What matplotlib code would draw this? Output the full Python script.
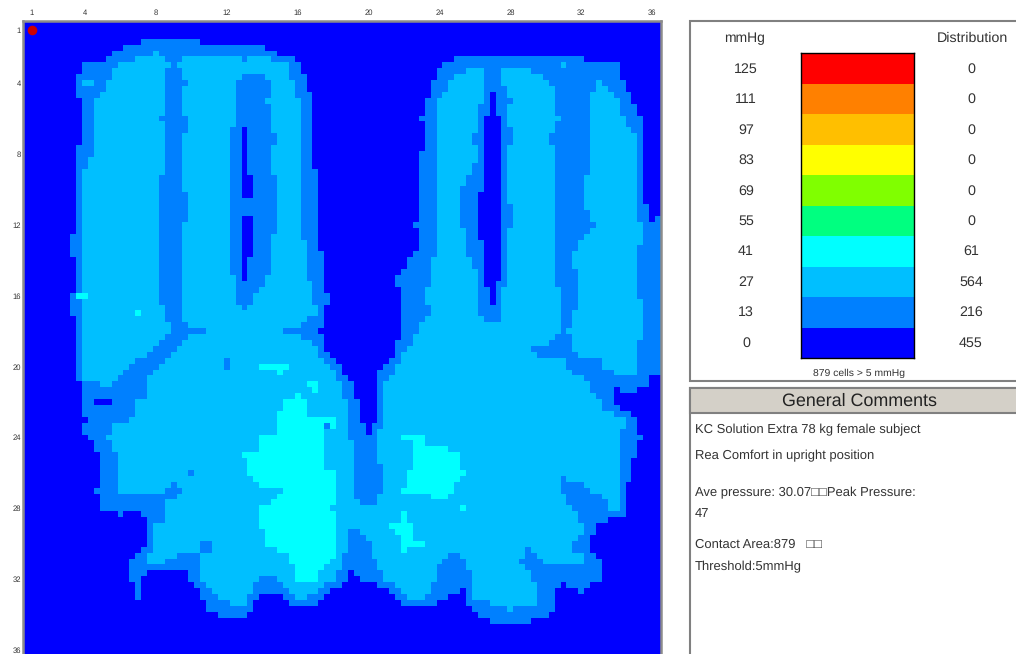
import matplotlib
matplotlib.use("Agg")
import matplotlib.pyplot as plt
import numpy as np
from matplotlib.colors import ListedColormap
from matplotlib.patches import Rectangle

# colour bands, top of the scale first
mmhg_labels = ["125", "111", "97", "83", "69", "55", "41", "27", "13", "0"]
distribution = ["0", "0", "0", "0", "0", "0", "61", "564", "216", "455"]
band_colors = ["#FF0000", "#FF8000", "#FFBF00", "#FFFF00", "#80FF00",
               "#00FF80", "#00FFFF", "#00BFFF", "#0080FF", "#0000FF"]

tick_values = [1, 4, 8, 12, 16, 20, 24, 28, 32, 36]

comment_lines = [
    ("KC Solution Extra 78 kg female subject", 430),
    ("Rea Comfort in upright position", 456),
    ("Ave pressure: 30.07\u25a1\u25a1Peak Pressure:", 493),
    ("47", 514),
    ("Contact Area:879   \u25a1\u25a1", 545),
    ("Threshold:5mmHg", 567),
]

# pressure map, read row by row as "start column:level" for columns 0-53
left_rows = [
    "", "", "",
    "20:1 30:0",
    "17:1 41:0",
    "15:1 22:2 23:1 43:0",
    "14:1 19:2 24:1 27:2 37:1 38:2 42:1 46:0",
    "10:1 16:2 25:1 26:2 45:1 47:0",
    "10:1 15:2 24:1 27:2 45:1 47:0",
    "9:1 15:2 24:1 27:2 37:1 41:2 45:1 48:0",
    "9:1 10:2 12:1 14:2 24:1 28:2 36:1 42:2 46:1 48:0",
    "9:1 14:2 24:1 27:2 36:1 42:2 46:1 48:0",
    "9:1 13:2 24:1 27:2 36:1 42:2 46:1 49:0",
    "10:1 12:2 24:1 27:2 36:1 41:2 47:1 49:0",
    "10:1 12:2 24:1 27:2 36:1 42:2 47:1 49:0",
    "10:1 12:2 24:1 27:2 36:1 42:2 47:1 49:0",
    "10:1 12:2 23:1 28:2 36:1 42:2 47:1 49:0",
    "10:1 12:2 24:1 28:2 36:1 42:2 47:1 49:0",
    "10:1 12:2 24:1 28:2 35:1 37:0 38:1 42:2 47:1 49:0",
    "10:1 12:2 24:1 27:2 35:1 37:0 38:1 43:2 47:1 49:0",
    "10:1 12:2 24:1 27:2 35:1 37:0 38:1 43:2 47:1 49:0",
    "9:1 12:2 24:1 27:2 35:1 37:0 38:1 42:2 47:1 49:0",
    "9:1 12:2 24:1 27:2 35:1 37:0 38:1 42:2 47:1 49:0",
    "9:1 11:2 24:1 27:2 35:1 37:0 38:1 42:2 47:1 49:0",
    "9:1 11:2 24:1 27:2 35:1 37:0 38:1 42:2 47:1 49:0",
    "9:1 10:2 24:1 27:2 35:1 37:0 38:1 42:2 47:1 50:0",
    "9:1 10:2 23:1 27:2 35:1 37:0 39:1 43:2 47:1 50:0",
    "9:1 10:2 23:1 27:2 35:1 37:0 39:1 43:2 47:1 50:0",
    "9:1 10:2 23:1 27:2 35:1 37:0 39:1 43:2 47:1 50:0",
    "9:1 10:2 23:1 28:2 35:1 37:0 39:1 43:2 47:1 50:0",
    "9:1 10:2 23:1 28:2 35:1 43:2 47:1 50:0",
    "9:1 10:2 23:1 28:2 35:1 43:2 47:1 50:0",
    "9:1 10:2 23:1 28:2 35:1 43:2 47:1 50:0",
    "9:1 10:2 23:1 28:2 35:1 37:0 39:1 43:2 47:1 50:0",
    "9:1 10:2 23:1 27:2 35:1 37:0 39:1 43:2 47:1 50:0",
    "9:1 10:2 23:1 27:2 35:1 37:0 39:1 43:2 47:1 50:0",
    "8:1 10:2 23:1 27:2 35:1 37:0 39:1 42:2 47:1 50:0",
    "8:1 10:2 23:1 27:2 35:1 37:0 39:1 42:2 48:1 50:0",
    "8:1 10:2 23:1 27:2 35:1 37:0 39:1 42:2 48:1 50:0",
    "8:1 10:2 23:1 27:2 35:1 37:0 39:1 42:2 48:1 51:0",
    "9:1 10:2 23:1 27:2 35:1 37:0 38:1 42:2 48:1 51:0",
    "9:1 10:2 23:1 27:2 35:1 37:0 38:1 42:2 48:1 51:0",
    "9:1 10:2 23:1 27:2 35:1 37:0 38:1 42:2 48:1 51:0",
    "9:1 10:2 23:1 27:2 36:1 37:0 38:1 41:2 48:1 51:0",
    "9:1 10:2 23:1 27:2 36:1 41:2 49:1 51:0",
    "9:1 10:2 23:1 27:2 36:1 40:2 49:1 51:0",
    "8:1 9:3 11:2 23:1 27:2 36:1 39:2 49:1 52:0",
    "8:1 10:2 23:1 27:2 36:1 39:2 49:1 52:0",
    "8:1 10:2 24:1 27:2 37:1 38:2 50:1 51:0",
    "8:1 10:2 19:3 20:2 24:1 27:2 50:1 51:0",
    "9:1 10:2 24:1 27:2 48:1 51:0",
    "9:1 10:2 25:1 28:2 47:1 51:0",
    "9:1 10:2 25:1 31:2 44:1 50:0",
    "9:1 10:2 24:1 28:2 47:1 51:0",
    "9:1 10:2 23:1 27:2 49:1 51:0",
    "9:1 10:2 22:1 26:2 50:1 51:0",
    "9:1 10:2 21:1 25:2 50:1 52:0",
    "9:1 10:2 19:1 24:2 34:1 35:2 51:1 53:0",
    "9:1 10:2 18:1 23:2 34:1 35:2 40:3 45:2 52:1",
    "9:1 10:2 17:1 22:2 43:3 44:2 53:1",
    "9:1 10:2 16:1 21:2 53:1",
    "10:1 13:2 15:1 21:2 48:3 50:2",
    "10:1 21:2 49:3 50:2",
    "10:1 21:2 46:3 47:2",
    "10:1 12:0 15:1 19:2 44:3 48:2",
    "10:1 19:2 44:3 48:2",
    "10:1 19:2 43:3 48:2",
    "11:1 18:2 43:3 53:2",
    "10:1 15:2 43:3 51:1 52:3 53:2",
    "10:1 15:2 43:3 51:2",
    "11:1 14:2 40:3 51:2",
    "12:1 15:2 40:3 51:2",
    "12:1 15:2 40:3 51:2",
    "13:1 16:2 37:3 51:2",
    "13:1 16:2 38:3 51:2",
    "13:1 16:2 38:3 51:2",
    "13:1 16:2 28:1 29:2 38:3 53:2",
    "13:1 16:2 39:3 53:2",
    "13:1 16:2 25:1 26:2 40:3 53:2",
    "12:1 16:2 24:1 27:2 44:3 53:2",
    "13:1 26:2 43:3 53:2",
    "13:1 24:2 42:3 53:2",
    "13:1 24:2 40:3 52:2",
    "16:1 17:0 20:1 24:2 40:3 53:2",
    "21:1 24:2 40:3 53:2",
    "21:1 22:2 40:3 53:2",
    "21:1 22:2 41:3 53:2",
    "21:1 22:2 41:3 53:2",
    "21:1 22:2 30:1 32:2 41:3 53:2",
    "20:1 22:2 30:1 32:2 43:3 53:2",
    "19:1 21:2 26:1 30:2 45:3 53:2",
    "18:1 21:2 24:1 30:2 45:3 52:2",
    "18:1 30:2 46:3 51:2",
    "18:1 21:0 28:1 30:2 46:3 50:2 53:1",
    "18:1 20:0 28:1 30:2 40:1 43:2 46:3 50:2 53:1",
    "19:1 20:0 29:1 31:2 39:1 44:2 51:1",
    "19:1 20:0 30:1 32:2 39:1 45:2 50:1 52:0",
    "19:1 20:0 30:1 33:2 38:1 40:0 44:1 46:2 48:1 51:0",
    "31:1 35:2 38:1 39:0 45:1 50:0",
    "31:1 39:0",
    "33:1 38:0",
]

# same for columns 54-107
right_rows = [
    "", "", "", "", "", "",
    "73:1 95:0",
    "71:1 91:2 92:1 101:0",
    "70:1 75:2 78:1 81:2 86:1 101:0",
    "70:1 73:2 78:1 81:2 88:1 101:0",
    "69:1 72:2 78:1 81:2 89:1 97:2 98:1 102:0",
    "69:1 72:2 78:1 82:2 90:1 97:2 99:1 102:0",
    "69:1 71:2 78:1 79:0 80:1 82:2 90:1 96:2 100:1 103:0",
    "68:1 70:2 78:1 79:0 80:1 83:2 90:1 96:2 101:1 103:0",
    "68:1 70:2 77:1 79:0 80:1 82:2 90:1 96:2 101:1 104:0",
    "68:1 70:2 77:1 79:0 80:1 82:2 90:1 96:2 101:1 104:0",
    "67:1 70:2 77:1 78:0 81:1 82:2 91:1 96:2 102:1 105:0",
    "68:1 70:2 77:1 78:0 81:1 82:2 90:1 96:2 102:1 105:0",
    "68:1 70:2 77:1 78:0 81:1 83:2 90:1 96:2 103:1 105:0",
    "68:1 70:2 76:1 78:0 81:1 83:2 89:1 96:2 104:1 105:0",
    "68:1 70:2 76:1 78:0 81:1 83:2 89:1 96:2 104:1 105:0",
    "68:1 70:2 77:1 78:0 81:1 82:2 90:1 96:2 104:1 105:0",
    "67:1 70:2 77:1 78:0 81:1 82:2 90:1 96:2 104:1 105:0",
    "67:1 70:2 77:1 78:0 81:1 82:2 90:1 96:2 104:1 105:0",
    "67:1 70:2 76:1 78:0 81:1 82:2 90:1 96:2 104:1 105:0",
    "67:1 70:2 76:1 78:0 81:1 82:2 90:1 96:2 104:1 105:0",
    "67:1 70:2 75:1 78:0 81:1 82:2 90:1 95:2 104:1 105:0",
    "67:1 70:2 75:1 78:0 81:1 82:2 90:1 95:2 104:1 105:0",
    "67:1 70:2 74:1 78:0 81:1 82:2 90:1 95:2 104:1 105:0",
    "67:1 70:2 74:1 77:0 81:1 82:2 90:1 95:2 104:1 105:0",
    "67:1 70:2 74:1 77:0 81:1 82:2 90:1 95:2 104:1 105:0",
    "67:1 70:2 74:1 77:0 81:1 83:2 90:1 95:2 104:1 106:0",
    "67:1 70:2 74:1 77:0 81:1 83:2 90:1 96:2 104:1 106:0",
    "67:1 70:2 74:1 77:0 81:1 83:2 90:1 96:2 104:1 106:0 107:1",
    "66:1 70:2 74:1 77:0 81:1 83:2 90:1 97:2 105:1",
    "67:1 70:2 75:1 77:0 81:1 82:2 90:1 96:2 105:1",
    "67:1 70:2 75:1 77:0 81:1 82:2 90:1 95:2 105:1",
    "67:1 70:2 75:1 78:0 81:1 82:2 90:1 94:2 105:1",
    "67:1 70:2 75:1 78:0 81:1 82:2 90:1 94:2 104:1",
    "66:1 70:2 75:1 78:0 81:1 82:2 90:1 93:2 104:1",
    "65:1 69:2 76:1 78:0 81:1 82:2 90:1 93:2 104:1",
    "65:1 69:2 76:1 78:0 81:1 82:2 90:1 93:2 104:1",
    "64:1 69:2 77:1 78:0 81:1 82:2 90:1 94:2 104:1",
    "63:1 69:2 77:1 78:0 81:1 82:2 90:1 94:2 104:1",
    "63:1 69:2 77:1 78:0 80:1 82:2 90:1 94:2 104:1",
    "64:1 68:2 77:1 79:0 80:1 81:2 91:1 94:2 104:1",
    "64:1 68:2 77:1 79:0 80:1 81:2 91:1 94:2 104:1",
    "64:1 68:2 77:1 79:0 80:1 81:2 91:1 94:2 105:1",
    "64:1 69:2 77:1 81:2 91:1 94:2 105:1",
    "64:1 69:2 77:1 81:2 91:1 93:2 105:1",
    "64:1 68:2 78:1 81:2 91:1 93:2 105:1",
    "64:1 67:2 91:1 93:2 105:1",
    "64:1 67:2 91:1 92:2 105:1",
    "64:1 66:2 90:1 93:2 105:1",
    "63:1 66:2 89:1 93:2 104:1",
    "63:1 65:2 86:1 93:2 104:1",
    "63:1 64:2 87:1 94:2 104:1",
    "62:1 64:2 92:1 98:2 104:1",
    "61:1 63:2 92:1 98:2 104:1",
    "60:1 63:2 93:1 100:2 104:1",
    "54:1 55:0 60:1 62:2 95:1 106:0",
    "54:1 56:0 60:1 61:2 96:1 106:0",
    "54:1 56:0 60:1 61:2 96:1 100:0 101:1 104:0",
    "54:1 56:0 60:1 61:2 97:1 100:0",
    "54:2 55:1 57:0 60:1 61:2 98:1 100:0",
    "54:2 55:1 57:0 60:1 61:2 98:1 101:0",
    "54:2 55:1 57:0 60:1 61:2 100:1 103:0",
    "54:2 55:1 57:0 60:1 61:2 102:1 104:0",
    "54:2 55:1 58:0 59:1 61:2 102:1 104:0",
    "54:2 55:1 58:0 59:1 60:2 101:1 104:0",
    "54:2 55:1 60:2 64:3 68:2 101:1 105:0",
    "54:2 56:1 60:2 66:3 68:2 101:1 104:0",
    "54:2 56:1 60:2 66:3 72:2 101:1 104:0",
    "54:2 56:1 60:2 66:3 74:2 101:1 104:0",
    "54:2 56:1 60:2 66:3 74:2 101:1 103:0",
    "54:2 56:1 61:2 66:3 74:2 101:1 103:0",
    "54:2 56:1 61:2 65:3 75:2 101:1 103:0",
    "54:2 56:1 61:2 65:3 74:2 91:1 92:2 101:1 103:0",
    "54:2 56:1 61:2 65:3 73:2 91:1 95:2 101:1 102:0",
    "54:2 56:1 61:2 64:3 73:2 91:1 96:2 101:1 102:0",
    "54:2 56:1 60:2 69:3 72:2 92:1 98:2 101:1 102:0",
    "54:2 57:1 60:2 92:1 99:2 101:1 102:0",
    "54:2 74:3 75:2 93:1 99:2 101:1 102:0",
    "54:2 64:3 65:2 94:1 102:0",
    "54:2 64:3 65:2 94:1 99:0",
    "54:2 62:3 66:2 95:1 97:0",
    "54:2 55:1 57:2 63:3 66:2 95:1 97:0",
    "54:2 55:1 58:2 64:3 66:2 94:1 96:0",
    "54:2 55:1 59:2 64:3 68:2 93:1 96:0",
    "54:2 55:1 59:2 64:3 65:2 85:1 86:2 93:1 96:0",
    "54:1 59:2 72:1 74:2 85:1 87:2 95:1 97:0",
    "54:1 60:2 71:1 75:2 84:1 88:2 95:1 98:0",
    "54:1 60:2 70:1 75:2 85:1 98:0",
    "54:1 55:0 56:1 61:2 70:1 76:2 86:1 98:0",
    "54:1 55:0 57:1 61:2 70:1 76:2 86:1 98:0",
    "54:0 60:1 63:2 69:1 76:2 87:1 91:0 92:1 96:0",
    "54:0 62:1 64:2 69:1 74:0 75:1 76:2 87:1 90:0 94:1 95:0",
    "54:0 63:1 65:2 68:1 72:0 75:1 76:2 87:1 90:0",
    "54:0 64:1 70:0 75:1 79:2 87:1 90:0",
    "54:0 76:1 82:2 83:1 90:0",
    "54:0 77:1 89:0",
    "54:0 79:1 86:0",
]


def fill_rows(grid, rows, first_col):
    for r, row in enumerate(rows):
        level = 0
        col = first_col
        for token in row.split():
            start, new_level = token.split(":")
            grid[r, col:int(start)] = level
            col = int(start)
            level = int(new_level)
        grid[r, col:first_col + 54] = level


grid = np.zeros((108, 108), dtype=int)
fill_rows(grid, left_rows, 0)
fill_rows(grid, right_rows, 54)

plt.rcParams["font.family"] = ["Liberation Sans", "DejaVu Sans"]
plt.rcParams["text.hinting"] = "none"

W, H = 1016, 654
fig = plt.figure(figsize=(W / 100, H / 100), dpi=100, facecolor="white")


def pixel_axes(x0, y0, x1, y1):
    return fig.add_axes([x0 / W, 1 - y1 / H, (x1 - x0) / W, (y1 - y0) / H])


# pressure map
ax = pixel_axes(23, 21, 661, 659)
cmap = ListedColormap(band_colors[::-1][:4])
ax.imshow(grid, cmap=cmap, vmin=0, vmax=3, extent=(0.5, 36.5, 36.5, 0.5),
          interpolation="nearest", aspect="auto")
ax.scatter([1], [1], s=48, color="#CC0000", linewidths=0, zorder=3)
ax.set_xticks(tick_values)
ax.set_yticks(tick_values)
ax.xaxis.tick_top()
ax.tick_params(length=0, labelsize=5.5, labelcolor="#333333")
ax.tick_params(axis="x", pad=3)
ax.tick_params(axis="y", pad=1.5)
for side in ax.spines.values():
    side.set_color("#8C8C8C")
    side.set_linewidth(1.8)

# colour scale
bar = pixel_axes(801, 53, 914, 358)
bar.barh(range(len(band_colors)), [1] * len(band_colors), height=1, color=band_colors)
bar.set_xlim(0, 1)
bar.set_ylim(len(band_colors) - 0.5, -0.5)
bar.set_xticks([])
bar.set_yticks([])
for side in bar.spines.values():
    side.set_color("black")
    side.set_linewidth(1)

# side panels in pixel coordinates
panel = fig.add_axes([0, 0, 1, 1], zorder=-1)
panel.set_xlim(0, W)
panel.set_ylim(H, 0)
panel.axis("off")
panel.add_patch(Rectangle((690, 21), 340, 360, fc="white", ec="#808080", lw=1.5))
panel.add_patch(Rectangle((690, 388), 340, 300, fc="white", ec="#808080", lw=1.5))
panel.add_patch(Rectangle((690, 388), 340, 25, fc="#D4D0C8", ec="#808080", lw=1.5))

panel.text(745, 38, "mmHg", ha="center", va="center", fontsize=10, color="#333333")
panel.text(972, 38, "Distribution", ha="center", va="center", fontsize=10.3, color="#333333")
for i in range(len(mmhg_labels)):
    y = 69.3 + i * 30.4
    panel.text(746, y, mmhg_labels[i], ha="center", va="center", fontsize=10.3, color="#333333")
    panel.text(971, y, distribution[i], ha="center", va="center", fontsize=10.3, color="#333333")
panel.text(859, 373.5, "879 cells > 5 mmHg", ha="center", va="center", fontsize=7.5, color="#333333")
panel.text(859, 401.5, "General Comments", ha="center", va="center", fontsize=12.9, color="#222222")
for text, y in comment_lines:
    panel.text(695, y, text, ha="left", va="center", fontsize=9.4, color="#333333")

fig.savefig("out.png", dpi=100)
